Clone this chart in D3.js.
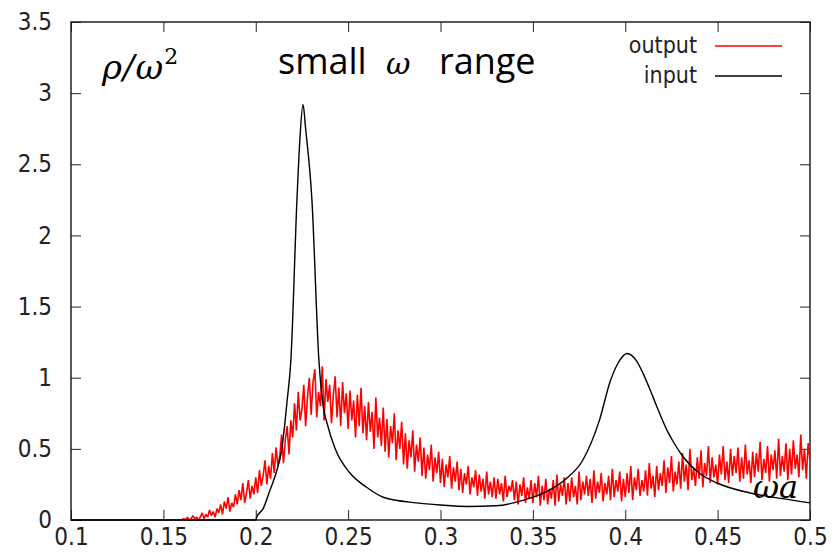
<!DOCTYPE html>
<html>
<head>
<meta charset="utf-8">
<script src="https://cdn.jsdelivr.net/npm/d3@7"></script>
<style>
  body { margin: 0; background: #fff; }
  svg { display: block; }
</style>
</head>
<body>
<svg id="chart"></svg>
<script>
const xTicks = [0.1, 0.15, 0.2, 0.25, 0.3, 0.35, 0.4, 0.45, 0.5];
const yTicks = [0, 0.5, 1, 1.5, 2, 2.5, 3, 3.5];

// input spectrum (black)
const inputX = [0.1, 0.2, 0.2005, 0.204, 0.2077, 0.211, 0.214, 0.217, 0.219, 0.2223, 0.224, 0.2256,
  0.227, 0.2304, 0.2342, 0.2365, 0.2386, 0.243, 0.251, 0.26, 0.269, 0.287, 0.3, 0.315, 0.33,
  0.345, 0.359, 0.368, 0.377, 0.386, 0.392, 0.396, 0.401, 0.406, 0.41, 0.413, 0.417, 0.4226,
  0.426, 0.431, 0.44, 0.4497, 0.4675, 0.485, 0.5];
const inputY = [0, 0, 0.02, 0.08, 0.21, 0.33, 0.49, 0.84, 1.12, 2.25, 2.7, 2.92,
  2.75, 2.25, 1.12, 0.8, 0.68, 0.5, 0.33, 0.23, 0.16, 0.12, 0.105, 0.095, 0.1,
  0.14, 0.21, 0.29, 0.42, 0.7, 0.98, 1.1, 1.17, 1.12, 1.02, 0.93, 0.8, 0.63,
  0.55, 0.45, 0.33, 0.26, 0.19, 0.15, 0.12];

// output spectrum (red), sampled every 0.001 from 0.16
const outputStart = 0.16;
const outputStep = 0.001;
const outputY = [
  0.00,0.01,0.00,0.02,0.00,0.01,0.03,0.01,0.02,0.00,
  0.02,0.05,0.01,0.04,0.02,0.07,0.03,0.06,0.02,0.08,
  0.05,0.11,0.04,0.13,0.08,0.16,0.06,0.12,0.09,0.18,
  0.11,0.21,0.14,0.26,0.12,0.19,0.28,0.15,0.24,0.18,
  0.30,0.19,0.35,0.24,0.31,0.42,0.25,0.38,0.29,0.47,
  0.33,0.51,0.38,0.45,0.60,0.40,0.56,0.66,0.46,0.70,
  0.58,0.82,0.63,0.90,0.70,0.78,0.95,0.66,0.86,1.00,
  0.74,0.97,1.06,0.72,0.90,0.80,1.08,0.70,0.99,0.83,
  0.95,0.68,0.88,1.01,0.72,0.93,0.66,0.97,0.75,0.89,
  0.64,0.91,0.70,0.84,0.58,0.88,0.66,0.93,0.61,0.80,
  0.56,0.83,0.62,0.76,0.50,0.86,0.58,0.72,0.52,0.79,
  0.48,0.71,0.44,0.66,0.54,0.75,0.42,0.63,0.50,0.69,
  0.39,0.61,0.36,0.56,0.44,0.63,0.34,0.53,0.41,0.58,
  0.31,0.51,0.29,0.46,0.35,0.53,0.27,0.44,0.33,0.48,
  0.26,0.43,0.23,0.39,0.30,0.45,0.22,0.37,0.27,0.41,
  0.21,0.36,0.19,0.33,0.25,0.38,0.18,0.30,0.23,0.35,
  0.17,0.32,0.20,0.29,0.15,0.34,0.18,0.27,0.16,0.30,
  0.15,0.29,0.18,0.26,0.13,0.31,0.16,0.24,0.20,0.28,
  0.14,0.27,0.11,0.25,0.17,0.30,0.12,0.23,0.15,0.28,
  0.12,0.26,0.16,0.31,0.10,0.24,0.14,0.29,0.11,0.22,
  0.15,0.28,0.10,0.32,0.13,0.25,0.17,0.30,0.11,0.26,
  0.13,0.30,0.16,0.24,0.11,0.34,0.14,0.27,0.18,0.31,
  0.17,0.29,0.12,0.35,0.15,0.27,0.19,0.33,0.13,0.26,
  0.18,0.31,0.14,0.36,0.16,0.28,0.20,0.34,0.13,0.29,
  0.16,0.33,0.19,0.38,0.14,0.30,0.21,0.36,0.17,0.28,
  0.20,0.35,0.17,0.40,0.22,0.31,0.16,0.38,0.21,0.33,
  0.24,0.42,0.19,0.37,0.26,0.45,0.20,0.34,0.25,0.41,
  0.22,0.47,0.27,0.39,0.21,0.50,0.28,0.36,0.24,0.44,
  0.29,0.49,0.23,0.40,0.31,0.52,0.26,0.44,0.30,0.39,
  0.25,0.46,0.32,0.52,0.28,0.41,0.26,0.50,0.31,0.45,
  0.33,0.51,0.27,0.44,0.29,0.53,0.32,0.42,0.26,0.48,
  0.30,0.47,0.34,0.55,0.28,0.43,0.33,0.52,0.27,0.46,
  0.35,0.49,0.29,0.57,0.31,0.45,0.34,0.54,0.28,0.50,
  0.32,0.56,0.36,0.46,0.30,0.60,0.35,0.50,0.29,0.54,0.42
];

const seriesNames = ["output", "input"];
const seriesColors = ["#ff0000", "#000000"];

const width = 838;
const height = 559;
const margin = { top: 22, right: 28, bottom: 39, left: 71 };

const svg = d3.select("#chart")
  .attr("width", width)
  .attr("height", height);

const innerWidth = width - margin.left - margin.right;
const innerHeight = height - margin.top - margin.bottom;

const g = svg.append("g")
  .attr("transform", `translate(${margin.left},${margin.top})`);

const x = d3.scaleLinear().domain([0.1, 0.5]).range([0, innerWidth]);
const y = d3.scaleLinear().domain([0, 3.5]).range([innerHeight, 0]);

const tickFont = "'Liberation Sans Narrow', 'DejaVu Sans Condensed', 'Liberation Sans', sans-serif";
const tickSize = "24px";
const axisColor = "#222";

// bottom and top (mirror) ticks
const xAxis = g.append("g")
  .attr("transform", `translate(0,${innerHeight})`)
  .call(d3.axisBottom(x).tickValues(xTicks).tickSizeInner(-10).tickSizeOuter(0).tickPadding(8)
    .tickFormat(d3.format("")));
xAxis.select(".domain").remove();
xAxis.selectAll("line").attr("stroke", axisColor);
xAxis.selectAll("text")
  .attr("fill", axisColor)
  .style("font-family", tickFont)
  .style("font-size", tickSize);

g.append("g")
  .call(d3.axisTop(x).tickValues(xTicks).tickSizeInner(-10).tickSizeOuter(0).tickFormat(""))
  .call(a => a.select(".domain").remove())
  .selectAll("line").attr("stroke", axisColor);

// left and right (mirror) ticks
const yAxis = g.append("g")
  .call(d3.axisLeft(y).tickValues(yTicks).tickSizeInner(-10).tickSizeOuter(0).tickPadding(19)
    .tickFormat(d3.format("")));
yAxis.select(".domain").remove();
yAxis.selectAll("line").attr("stroke", axisColor);
yAxis.selectAll("text")
  .attr("fill", axisColor)
  .style("font-family", tickFont)
  .style("font-size", tickSize);

g.append("g")
  .attr("transform", `translate(${innerWidth},0)`)
  .call(d3.axisRight(y).tickValues(yTicks).tickSizeInner(-10).tickSizeOuter(0).tickFormat(""))
  .call(a => a.select(".domain").remove())
  .selectAll("line").attr("stroke", axisColor);

// frame
g.append("rect")
  .attr("width", innerWidth)
  .attr("height", innerHeight)
  .attr("fill", "none")
  .attr("stroke", axisColor)
  .attr("stroke-width", 1.5);

const outputData = outputY.map((v, i) => ({ x: outputStart + i * outputStep, y: v }));
const inputData = inputX.map((v, i) => ({ x: v, y: inputY[i] }));

g.append("path")
  .datum(outputData)
  .attr("fill", "none")
  .attr("stroke", seriesColors[0])
  .attr("stroke-width", 1.6)
  .attr("stroke-linejoin", "bevel")
  .attr("d", d3.line().x(d => x(d.x)).y(d => y(d.y)));

g.append("path")
  .datum(inputData)
  .attr("fill", "none")
  .attr("stroke", seriesColors[1])
  .attr("stroke-width", 1.4)
  .attr("d", d3.line().x(d => x(d.x)).y(d => y(d.y)).curve(d3.curveMonotoneX));

// legend
const legend = svg.append("g")
  .attr("transform", "translate(697, 46)");
seriesNames.forEach((name, i) => {
  const row = legend.append("g").attr("transform", `translate(0, ${i * 30})`);
  row.append("text")
    .attr("x", 0)
    .attr("y", 7)
    .attr("text-anchor", "end")
    .attr("fill", axisColor)
    .style("font-family", tickFont)
    .style("font-size", "23px")
    .text(name);
  row.append("line")
    .attr("x1", 18)
    .attr("x2", 85)
    .attr("stroke", seriesColors[i])
    .attr("stroke-width", 1.5);
});

// annotations
const serif = "'DejaVu Serif', 'Liberation Serif', serif";
const ylab = svg.append("text")
  .attr("x", 102)
  .attr("y", 79)
  .style("font-family", serif)
  .style("font-style", "italic")
  .style("font-size", "34px")
  .style("letter-spacing", "1px")
  .attr("fill", "#000");
ylab.append("tspan").text("ρ/ω");
ylab.append("tspan").attr("dy", -15).style("font-size", "22px").style("font-style", "normal").text("2");

const title = svg.append("g").attr("fill", "#000");
title.append("text")
  .attr("x", 278).attr("y", 74)
  .style("font-family", "'Open Sans', sans-serif")
  .style("font-size", "36px")
  .text("small");
title.append("text")
  .attr("x", 386).attr("y", 74)
  .style("font-family", serif)
  .style("font-style", "italic")
  .style("font-size", "30px")
  .text("ω");
title.append("text")
  .attr("x", 439).attr("y", 74)
  .style("font-family", "'Open Sans', sans-serif")
  .style("font-size", "36px")
  .text("range");

svg.append("text")
  .attr("x", 753)
  .attr("y", 498)
  .style("font-family", serif)
  .style("font-style", "italic")
  .style("font-size", "32px")
  .attr("fill", "#000")
  .text("ωa");
</script>
</body>
</html>
